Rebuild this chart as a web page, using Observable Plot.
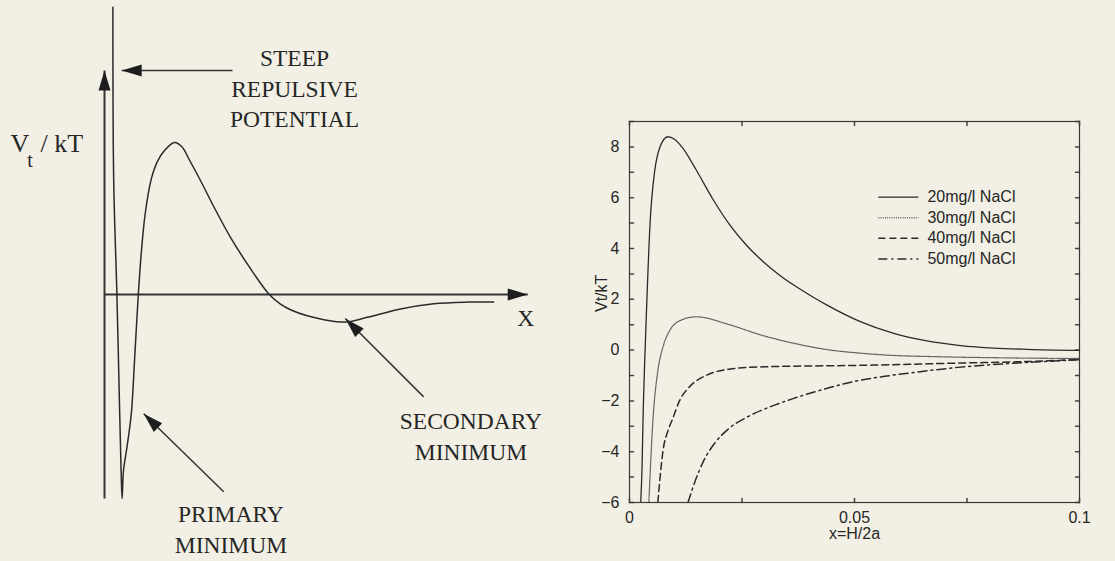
<!DOCTYPE html>
<html><head><meta charset="utf-8">
<script src="https://cdn.jsdelivr.net/npm/d3@7"></script>
<script src="https://cdn.jsdelivr.net/npm/@observablehq/plot@0.6"></script>
<style>
html,body{margin:0;padding:0;background:#f2f0e5;}
#wrap{position:relative;width:1115px;height:561px;overflow:hidden;background:#f2f0e5;}
#left{position:absolute;left:0;top:0;}
#right{position:absolute;left:560px;top:0;}
svg{display:block}
</style></head><body><div id="wrap"><div id="left"></div><div id="right"></div></div>
<script>
// ===================== LEFT PANEL (schematic) =====================
// schematic curve V_t/kT vs X (arbitrary schematic units)
const schemX = [0.21, 0.23, 0.31, 0.38, 0.415, 0.44, 0.475, 0.56, 0.67, 0.76, 0.845, 0.925, 1.015, 1.17, 1.325, 1.5, 1.75, 1.93, 2.13, 2.4, 2.73, 3.15, 3.6, 4.12, 4.4, 4.65, 5.07, 5.98, 6.57, 7.4, 8.23, 9.07, 9.73];
const schemY = [7.18, 2.85, 0, -2.98, -4.4, -5.1, -4.4, -3.83, -2.98, -1.48, 0, 1.1, 2.0, 2.89, 3.33, 3.6, 3.8, 3.7, 3.35, 2.85, 2.2, 1.43, 0.72, 0, -0.24, -0.38, -0.53, -0.69, -0.57, -0.36, -0.23, -0.19, -0.19];
// axes (schematic units)
const axisNames = ["y-axis", "x-axis"];
const axisFrom = [[0, -5.1], [0, 0]];
const axisTo = [[0, 5.6], [10.58, 0]];
// annotation arrows
const arrowNames = ["steep", "secondary", "primary"];
const arrowFrom = [[3.2, 5.6], [7.98, -2.56], [2.98, -4.93]];
const arrowTo = [[0.43, 5.6], [6.02, -0.6], [0.98, -2.98]];
// annotation texts
const noteTexts = ["STEEP\nREPULSIVE\nPOTENTIAL", "SECONDARY\nMINIMUM", "PRIMARY\nMINIMUM", "X"];
const notePos = [[4.75, 4.18], [9.16, -4.13], [3.16, -6.45], [10.53, -0.78]];
const yLabelParts = ["V", "t", "/ kT"];
const yLabelPos = [[-2.35, 3.56], [-1.93, 3.18], [-1.6, 3.56]];

const ink = "#262626";
const serif = "'Liberation Serif', 'Times New Roman', serif";

const curveData = schemX.map((x, i) => ({x, y: schemY[i]}));
const arrowData = [
  ...axisNames.map((n, i) => ({n, x1: axisFrom[i][0], y1: axisFrom[i][1], x2: axisTo[i][0], y2: axisTo[i][1], w: 2})),
  ...arrowNames.map((n, i) => ({n, x1: arrowFrom[i][0], y1: arrowFrom[i][1], x2: arrowTo[i][0], y2: arrowTo[i][1], w: 1.5}))
];
const arrowHead = {draw(ctx) { const L = 20, W = 6; ctx.moveTo(0, 0); ctx.lineTo(W, L); ctx.lineTo(-W, L); ctx.closePath(); }};

const left = Plot.plot({
  width: 560, height: 561,
  marginTop: 0, marginBottom: 0, marginLeft: 0, marginRight: 0,
  style: {background: "transparent", fontFamily: serif, color: ink},
  x: {domain: [-2.6, 11.4], axis: null},
  y: {domain: [-6.675, 7.35], axis: null},
  marks: [
    Plot.link(arrowData, {x1: "x1", y1: "y1", x2: "x2", y2: "y2", stroke: "#333", strokeWidth: d => d.w}),
    Plot.dot(arrowData, {x: "x2", y: "y2", symbol: arrowHead, fill: "#1e1e1e", stroke: "none",
      rotate: d => Math.atan2(d.x2 - d.x1, d.y2 - d.y1) * 180 / Math.PI}),
    Plot.line(curveData, {x: "x", y: "y", curve: "catmull-rom", stroke: "#2a2a2a", strokeWidth: 1.5}),
    Plot.text(noteTexts, {x: (d, i) => notePos[i][0], y: (d, i) => notePos[i][1], text: d => d,
      textAnchor: "middle", lineAnchor: "bottom", lineHeight: 1.3, fontSize: 23.5, fill: ink}),
    Plot.text(yLabelParts, {x: (d, i) => yLabelPos[i][0], y: (d, i) => yLabelPos[i][1], text: d => d,
      textAnchor: "start", lineAnchor: "bottom", fontSize: (d, i) => i === 1 ? 20 : 26, fill: ink})
  ]
});
document.getElementById("left").appendChild(left);

// ===================== RIGHT PANEL (data) =====================
const seriesNames = ["20mg/l NaCl", "30mg/l NaCl", "40mg/l NaCl", "50mg/l NaCl"];
const x20 = [0.0025, 0.0028, 0.003, 0.0037, 0.0046, 0.0056, 0.0067, 0.0085, 0.010, 0.0118, 0.0148, 0.0185, 0.0222, 0.0259, 0.0296, 0.033, 0.0365, 0.040, 0.0439, 0.0513, 0.0587, 0.0661, 0.0736, 0.081, 0.0884, 0.1];
const v20 = [-6, -4.5, -2.8, 1.15, 5.08, 7.05, 7.96, 8.4, 8.3, 7.96, 7.1, 5.95, 4.95, 4.15, 3.5, 3.0, 2.56, 2.17, 1.77, 1.12, 0.66, 0.36, 0.18, 0.08, 0.03, -0.01];
const x30 = [0.0043, 0.0052, 0.0063, 0.0074, 0.0089, 0.0111, 0.0148, 0.0222, 0.0291, 0.0365, 0.0439, 0.0513, 0.0587, 0.0661, 0.081, 0.1];
const v30 = [-6, -2.78, -0.81, 0.1, 0.76, 1.15, 1.31, 1.0, 0.6, 0.27, 0.02, -0.12, -0.21, -0.25, -0.3, -0.33];
const x40 = [0.0063, 0.0068, 0.0075, 0.0085, 0.0096, 0.0111, 0.0133, 0.017, 0.0222, 0.0296, 0.0513, 0.0736, 0.0884, 0.1];
const v40 = [-6, -5.0, -3.9, -3.2, -2.7, -2.0, -1.45, -1.0, -0.75, -0.66, -0.6, -0.51, -0.45, -0.37];
const x50 = [0.013, 0.0145, 0.0165, 0.019, 0.022, 0.026, 0.031, 0.036, 0.043, 0.05, 0.058, 0.065, 0.073, 0.08, 0.09, 0.1];
const v50 = [-6, -5.2, -4.35, -3.65, -3.1, -2.65, -2.25, -1.93, -1.55, -1.23, -1.0, -0.84, -0.68, -0.58, -0.47, -0.38];
const seriesX = [x20, x30, x40, x50];
const seriesV = [v20, v30, v40, v50];

const xTicks = [0, 0.05, 0.1];
const xTickLabels = ["0", "0.05", "0.1"];
const xAllTicks = [0, 0.025, 0.05, 0.075, 0.1];
const yTicks = [-6, -4, -2, 0, 2, 4, 6, 8];
const yTickLabels = ["\u22126", "\u22124", "\u22122", "0", "2", "4", "6", "8"];
const yAllTicks = [-6, -5, -4, -3, -2, -1, 0, 1, 2, 3, 4, 5, 6, 7, 8, 9];
const xLabel = "x=H/2a";
const yLabel = "Vt/kT";

const dashes = [null, "1,1.2", "7,4", "9,4,2,4"];
const strokes = ["#2a2a2a", "#606060", "#2a2a2a", "#2a2a2a"];
const widths = [1.3, 1.3, 1.5, 1.5];
const legendCfg = {x1: 0.0553, x2: 0.0642, xt: 0.0662, y0: 6.02, dy: 0.81};

const sans = "'Liberation Sans', Arial, Helvetica, sans-serif";
const tickShape = {draw(ctx, l) { ctx.moveTo(0, 0); ctx.lineTo(0, -l); }};

const lineMarks = seriesNames.map((name, k) =>
  Plot.line(seriesX[k].map((x, i) => ({x, v: seriesV[k][i]})), {
    x: "x", y: "v", curve: "monotone-x", stroke: strokes[k], strokeWidth: widths[k],
    strokeDasharray: dashes[k], clip: true
  })
);
const legendRows = seriesNames.map((name, k) => ({name, k, y: legendCfg.y0 - k * legendCfg.dy}));

const right = Plot.plot({
  width: 555, height: 561,
  marginLeft: 69, marginRight: 36, marginTop: 121, marginBottom: 59,
  style: {background: "transparent", fontFamily: sans, color: ink},
  x: {domain: [0, 0.1]},
  y: {domain: [-6, 9]},
  marks: [
    Plot.axisX(xTicks, {tickSize: 0, tickPadding: 9, fontSize: 16, label: null, tickFormat: d => xTickLabels[xTicks.indexOf(d)], fill: ink}),
    Plot.axisY(yTicks, {tickSize: 0, tickPadding: 10, fontSize: 16, label: null, tickFormat: d => yTickLabels[yTicks.indexOf(d)], fill: ink}),
    Plot.vector(yAllTicks, {x: () => 0, y: d => d, length: 4, rotate: 90, anchor: "start", shape: tickShape, stroke: "#444"}),
    Plot.vector(yAllTicks, {x: () => 0.1, y: d => d, length: 4, rotate: -90, anchor: "start", shape: tickShape, stroke: "#444"}),
    Plot.vector(xAllTicks, {x: d => d, y: () => -6, length: 4, rotate: 0, anchor: "start", shape: tickShape, stroke: "#444"}),
    Plot.vector(xAllTicks, {x: d => d, y: () => 9, length: 4, rotate: 180, anchor: "start", shape: tickShape, stroke: "#444"}),
    ...lineMarks,
    Plot.frame({stroke: "#3a3a3a", strokeWidth: 1.2}),
    ...legendRows.map(r => Plot.link([r], {x1: () => legendCfg.x1, x2: () => legendCfg.x2, y1: "y", y2: "y",
      stroke: strokes[r.k], strokeWidth: widths[r.k], strokeDasharray: dashes[r.k]})),
    Plot.text(legendRows, {x: () => legendCfg.xt, y: "y", text: "name", textAnchor: "start", fontSize: 16, fill: ink}),
    Plot.text([xLabel], {frameAnchor: "bottom", dy: 36, fontSize: 16, fill: ink}),
    Plot.text([yLabel], {frameAnchor: "left", dx: -28, rotate: -90, fontSize: 16, fill: ink})
  ]
});
document.getElementById("right").appendChild(right);
</script>
</body></html>
